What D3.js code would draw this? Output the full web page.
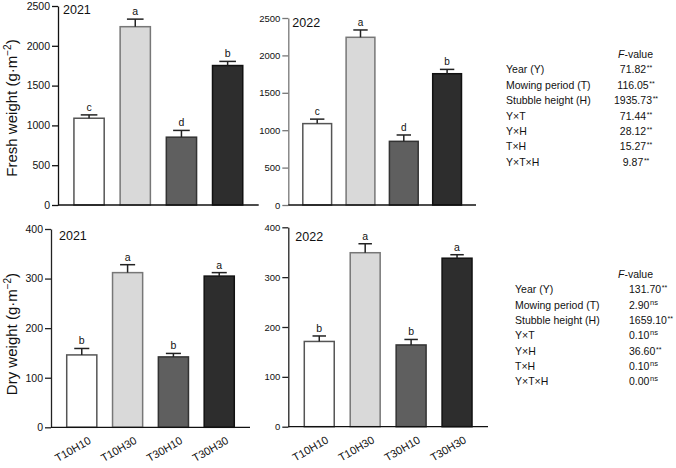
<!DOCTYPE html>
<html><head><meta charset="utf-8">
<script src="https://cdn.jsdelivr.net/npm/d3@7"></script>
<style>
html,body{margin:0;padding:0;background:#fff;}
svg{display:block;font-family:"Liberation Sans",Arial,sans-serif;}
</style></head>
<body>
<svg id="chart" width="676" height="468"></svg>
<script>
// ---------- data ----------
const categories = ["T10H10", "T10H30", "T30H10", "T30H30"];
const fresh2021 = [1090, 2240, 852, 1752];
const fresh2021Err = [42, 95, 85, 52];
const fresh2022 = [1088, 2242, 851, 1755];
const fresh2022Err = [60, 98, 85, 58];
const freshLetters = ["c", "a", "d", "b"];
const dry2021 = [146, 312, 142, 305];
const dry2021Err = [13, 16, 7, 7];
const dry2022 = [171, 349, 164, 338];
const dry2022Err = [11, 18, 11, 7];
const dryLetters = ["b", "a", "b", "a"];
const freshTicks = [0, 500, 1000, 1500, 2000, 2500];
const dryTicks = [0, 100, 200, 300, 400];
const effects = ["Year (Y)", "Mowing period (T)", "Stubble height (H)", "Y×T", "Y×H", "T×H", "Y×T×H"];
const freshF = ["71.82", "116.05", "1935.73", "71.44", "28.12", "15.27", "9.87"];
const freshSig = ["**", "**", "**", "**", "**", "**", "**"];
const dryF = ["131.70", "2.90", "1659.10", "0.10", "36.60", "0.10", "0.00"];
const drySig = ["**", "ns", "**", "ns", "**", "ns", "ns"];

// ---------- styles ----------
const fills = ["#ffffff", "#d9d9d9", "#5f5f5f", "#2d2d2d"];
const strokes = ["#555555", "#777777", "#333333", "#111111"];

const svg = d3.select("#chart");

function panel(cfg) {
  const g = svg.append("g");
  const x = d3.scaleBand().domain(categories).range([cfg.x0, cfg.x1]).padding(cfg.pad);
  const y = d3.scaleLinear().domain([0, cfg.max]).range([cfg.y0, cfg.yTop]);

  const ax = g.append("g").attr("transform", `translate(${cfg.x0},0)`)
    .call(d3.axisLeft(y).tickValues(cfg.ticks).tickSize(6).tickSizeOuter(0).tickPadding(2).tickFormat(d3.format("d")));
  ax.selectAll("path,line").attr("stroke", cfg.axisColor).attr("stroke-width", 1.3);
  ax.selectAll("text").attr("font-size", cfg.tickFont).attr("fill", "#111")
    .attr("font-family", "Liberation Sans, Arial, sans-serif");

  const data = categories.map((c, i) => ({c, i, v: cfg.values[i], e: cfg.errs[i], l: cfg.letters[i]}));
  const bw = x.bandwidth();
  g.selectAll("rect.bar").data(data).enter().append("rect")
    .attr("x", d => x(d.c)).attr("y", d => y(d.v))
    .attr("width", bw).attr("height", d => y(0) - y(d.v))
    .attr("fill", d => fills[d.i]).attr("stroke", d => strokes[d.i]).attr("stroke-width", 1.5);

  const cw = bw * cfg.capFrac;
  g.selectAll("line.ev").data(data).enter().append("line")
    .attr("x1", d => x(d.c) + bw / 2).attr("x2", d => x(d.c) + bw / 2)
    .attr("y1", d => y(d.v)).attr("y2", d => y(d.v + d.e))
    .attr("stroke", "#222").attr("stroke-width", 1.5);
  g.selectAll("line.ec").data(data).enter().append("line")
    .attr("x1", d => x(d.c) + bw / 2 - cw / 2).attr("x2", d => x(d.c) + bw / 2 + cw / 2)
    .attr("y1", d => y(d.v + d.e)).attr("y2", d => y(d.v + d.e))
    .attr("stroke", "#222").attr("stroke-width", 1.5);

  g.selectAll("text.lt").data(data).enter().append("text")
    .attr("x", d => x(d.c) + bw / 2).attr("y", d => y(d.v + d.e) - 4)
    .attr("text-anchor", "middle").attr("font-size", cfg.letterFont).attr("fill", "#111")
    .text(d => d.l);

  g.append("line").attr("x1", cfg.x0).attr("x2", cfg.x1).attr("y1", cfg.y0).attr("y2", cfg.y0)
    .attr("stroke", "#111").attr("stroke-width", 1.3);

  g.append("text").attr("x", cfg.x0 + cfg.yearDx).attr("y", cfg.yTop + cfg.yearDy)
    .attr("font-size", 12.5).attr("fill", "#111").text(cfg.year);

  if (cfg.xLabels) {
    g.selectAll("text.xl").data(data).enter().append("text")
      .attr("transform", d => `translate(${x(d.c) + bw / 2 + 10},${cfg.y0 + 15.5}) rotate(-30)`)
      .attr("text-anchor", "end").attr("font-size", 11).attr("fill", "#111")
      .text(d => d.c);
  }
  return {x, y};
}

panel({x0: 58, x1: 258.7, y0: 205, yTop: 6, max: 2500, ticks: freshTicks, pad: 0.345,
  values: fresh2021, errs: fresh2021Err, letters: freshLetters, tickFont: 10.5, letterFont: 10.5,
  axisColor: "#111", capFrac: 0.55, year: "2021", yearDx: 5, yearDy: 8, xLabels: false});
panel({x0: 288.3, x1: 476, y0: 205, yTop: 18, max: 2500, ticks: freshTicks, pad: 0.335,
  values: fresh2022, errs: fresh2022Err, letters: freshLetters, tickFont: 9.5, letterFont: 10,
  axisColor: "#777", capFrac: 0.5, year: "2022", yearDx: 4, yearDy: 9, xLabels: false});
panel({x0: 51, x1: 250, y0: 427.3, yTop: 229, max: 400, ticks: dryTicks, pad: 0.343,
  values: dry2021, errs: dry2021Err, letters: dryLetters, tickFont: 10.5, letterFont: 10.5,
  axisColor: "#222", capFrac: 0.5, year: "2021", yearDx: 8, yearDy: 10.5, xLabels: true});
panel({x0: 288.3, x1: 488, y0: 426.7, yTop: 227.3, max: 400, ticks: dryTicks, pad: 0.348,
  values: dry2022, errs: dry2022Err, letters: dryLetters, tickFont: 9.5, letterFont: 10.5,
  axisColor: "#222", capFrac: 0.45, year: "2022", yearDx: 7, yearDy: 13.5, xLabels: true});

function yTitle(cx, cy, label) {
  const t = svg.append("text").attr("transform", `translate(${cx},${cy}) rotate(-90)`)
    .attr("text-anchor", "middle").attr("font-size", 15).attr("fill", "#111");
  t.append("tspan").text(label + " (g·m");
  t.append("tspan").attr("dy", -6).attr("font-size", 10).text("−2");
  t.append("tspan").attr("dy", 6).text(")");
}
yTitle(17, 108, "Fresh weight");
yTitle(17, 334, "Dry weight");

function table(lx, vx, y0, rowH, values, sigs, anchor) {
  const g = svg.append("g").attr("font-size", 10.5).attr("fill", "#111");
  const head = g.append("text").attr("x", 618).attr("y", y0).attr("fill", "#111");
  head.append("tspan").attr("font-style", "italic").text("F");
  head.append("tspan").text("-value");
  effects.forEach((e, i) => {
    const yy = y0 + rowH * (i + 1);
    g.append("text").attr("x", lx).attr("y", yy).attr("fill", "#111").text(e);
    const t = g.append("text").attr("x", vx).attr("y", yy).attr("fill", "#111")
      .attr("text-anchor", anchor).text(values[i]);
    const bb = t.node().getBBox();
    const sig = sigs[i];
    g.append("text").attr("x", bb.x + bb.width + 0.5).attr("y", yy - (sig === "**" ? 3 : 4))
      .attr("font-size", sig === "**" ? 7 : 7.5).attr("fill", "#111").text(sig);
  });
}
table(506, 633, 58, 15.4, freshF, freshSig, "middle");
table(515, 629, 278, 15.3, dryF, drySig, "start");
</script>
</body></html>
